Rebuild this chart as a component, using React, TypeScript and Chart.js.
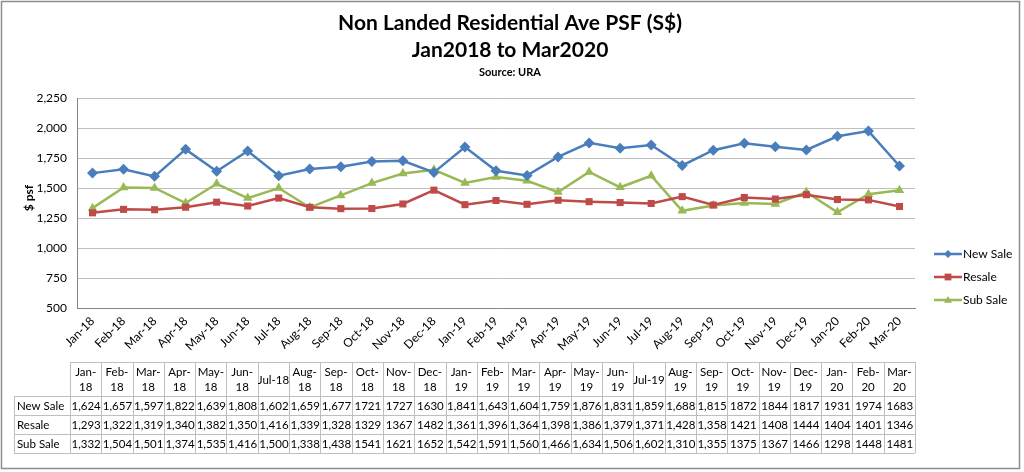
import React, { useEffect, useRef } from "react";
import { Chart, registerables } from "chart.js";
Chart.register(...registerables);

const months = [
  "Jan-18", "Feb-18", "Mar-18", "Apr-18", "May-18", "Jun-18", "Jul-18", "Aug-18", "Sep-18",
  "Oct-18", "Nov-18", "Dec-18", "Jan-19", "Feb-19", "Mar-19", "Apr-19", "May-19", "Jun-19",
  "Jul-19", "Aug-19", "Sep-19", "Oct-19", "Nov-19", "Dec-19", "Jan-20", "Feb-20", "Mar-20",
];
const newSale = [1624, 1657, 1597, 1822, 1639, 1808, 1602, 1659, 1677, 1721, 1727, 1630, 1841, 1643, 1604, 1759, 1876, 1831, 1859, 1688, 1815, 1872, 1844, 1817, 1931, 1974, 1683];
const resale = [1293, 1322, 1319, 1340, 1382, 1350, 1416, 1339, 1328, 1329, 1367, 1482, 1361, 1396, 1364, 1398, 1386, 1379, 1371, 1428, 1358, 1421, 1408, 1444, 1404, 1401, 1346];
const subSale = [1332, 1504, 1501, 1374, 1535, 1416, 1500, 1338, 1438, 1541, 1621, 1652, 1542, 1591, 1560, 1466, 1634, 1506, 1602, 1310, 1355, 1375, 1367, 1466, 1298, 1448, 1481];
// whether the data table shows a thousands separator for each month column
const tableComma = [
  true, true, true, true, true, true, true, true, true,
  false, false, false, true, true, true, true, true, true,
  true, true, true, false, false, false, false, false, false,
];
const seriesNames = ["New Sale", "Resale", "Sub Sale"];
const seriesColors = ["#4A7EBB", "#BE4B48", "#98B954"];
const seriesMarkers = ["rectRot", "rect", "triangle"];
const titleLines = ["Non Landed Residential Ave PSF (S$)", "Jan2018 to Mar2020"];
const subtitle = "Source: URA";
const yAxisTitle = "$ psf";
const yMin = 500;
const yMax = 2250;
const yStep = 250;

const FONT = "Lato, 'Open Sans', sans-serif";

function drawMarker(ctx: CanvasRenderingContext2D, kind: string, x: number, y: number, r: number, color: string) {
  ctx.save();
  ctx.fillStyle = color;
  ctx.beginPath();
  if (kind === "rectRot") {
    ctx.moveTo(x, y - r);
    ctx.lineTo(x + r, y);
    ctx.lineTo(x, y + r);
    ctx.lineTo(x - r, y);
  } else if (kind === "rect") {
    ctx.rect(x - r * 0.85, y - r * 0.85, r * 1.7, r * 1.7);
  } else {
    ctx.moveTo(x, y - r);
    ctx.lineTo(x + r, y + r * 0.7);
    ctx.lineTo(x - r, y + r * 0.7);
  }
  ctx.closePath();
  ctx.fill();
  ctx.restore();
}

const decorPlugin = {
  id: "decor",
  afterDraw(chart: any) {
    const ctx: CanvasRenderingContext2D = chart.ctx;
    const area = chart.chartArea;
    ctx.save();
    // outer border
    ctx.strokeStyle = "#8C8C8C";
    ctx.lineWidth = 1.5;
    ctx.strokeRect(1.5, 1.5, 1018, 467);

    // titles
    ctx.fillStyle = "#000";
    ctx.textAlign = "center";
    ctx.textBaseline = "middle";
    ctx.font = `bold 21px ${FONT}`;
    ctx.fillText(titleLines[0], 510, 23);
    ctx.fillText(titleLines[1], 510, 50);
    ctx.font = `bold 11px ${FONT}`;
    ctx.fillText(subtitle, 510, 72);

    // y axis title
    ctx.save();
    ctx.translate(29, 198);
    ctx.rotate(-Math.PI / 2);
    ctx.font = `bold 12px ${FONT}`;
    ctx.fillText(yAxisTitle, 0, 0);
    ctx.restore();

    // legend
    const legendY = [254, 277, 300];
    ctx.font = `12px ${FONT}`;
    ctx.textAlign = "left";
    for (let i = 0; i < seriesNames.length; i++) {
      const y = legendY[i];
      ctx.strokeStyle = seriesColors[i];
      ctx.lineWidth = 2.5;
      ctx.beginPath();
      ctx.moveTo(934, y);
      ctx.lineTo(962, y);
      ctx.stroke();
      drawMarker(ctx, seriesMarkers[i], 948, y, 4, seriesColors[i]);
      ctx.fillStyle = "#000";
      ctx.fillText(seriesNames[i], 963, y);
    }

    // data table
    const left0 = 14;
    const colsLeft = 70;
    const right = area.right;
    const n = months.length;
    const colW = (right - colsLeft) / n;
    const top = 362;
    const headBottom = 396;
    const rowH = 19;
    const rows = [newSale, resale, subSale];
    const bottom = headBottom + rowH * rows.length;
    ctx.strokeStyle = "#BFBFBF";
    ctx.lineWidth = 1;
    ctx.beginPath();
    ctx.moveTo(colsLeft, top + 0.5);
    ctx.lineTo(right, top + 0.5);
    for (let c = 0; c <= n; c++) {
      const x = Math.round(colsLeft + c * colW) + 0.5;
      ctx.moveTo(x, top);
      ctx.lineTo(x, bottom);
    }
    ctx.moveTo(left0 + 0.5, headBottom);
    ctx.lineTo(left0 + 0.5, bottom);
    for (let r = 0; r <= rows.length; r++) {
      const y = headBottom + r * rowH + 0.5;
      ctx.moveTo(left0, y);
      ctx.lineTo(right, y);
    }
    ctx.stroke();

    ctx.fillStyle = "#000";
    ctx.font = `11.5px ${FONT}`;
    ctx.textAlign = "center";
    for (let c = 0; c < n; c++) {
      const cx = colsLeft + (c + 0.5) * colW;
      const label = months[c];
      if (label.startsWith("Jul")) {
        ctx.fillText(label, cx, (top + headBottom) / 2 + 1);
      } else {
        const parts = label.split("-");
        ctx.fillText(parts[0] + "-", cx, top + 10);
        ctx.fillText(parts[1], cx, top + 25);
      }
      for (let r = 0; r < rows.length; r++) {
        const v = rows[r][c];
        const s = tableComma[c] ? v.toLocaleString("en-US") : String(v);
        ctx.fillText(s, cx + 0.5, headBottom + r * rowH + rowH / 2 + 1);
      }
    }
    ctx.textAlign = "left";
    for (let r = 0; r < rows.length; r++) {
      ctx.fillText(seriesNames[r], left0 + 3, headBottom + r * rowH + rowH / 2 + 1);
    }
    ctx.restore();
  },
};

export default function App() {
  const ref = useRef<HTMLCanvasElement | null>(null);
  useEffect(() => {
    if (!ref.current) return;
    const seriesData = [newSale, resale, subSale];
    const chart = new Chart(ref.current, {
      type: "line",
      data: {
        labels: months,
        datasets: seriesNames.map((name, i) => ({
          label: name,
          data: seriesData[i],
          borderColor: seriesColors[i],
          backgroundColor: seriesColors[i],
          borderWidth: 2.5,
          pointStyle: seriesMarkers[i] as any,
          pointRadius: seriesMarkers[i] === "rect" ? 5 : 5.5,
          pointBorderWidth: 0,
          tension: 0,
        })),
      },
      options: {
        animation: false,
        responsive: false,
        maintainAspectRatio: false,
        layout: { padding: { top: 98, right: 109, bottom: 110, left: 0 } },
        plugins: {
          legend: { display: false },
          title: { display: false },
          tooltip: { enabled: false },
        },
        scales: {
          x: {
            offset: true,
            grid: {
              display: true,
              offset: true,
              drawOnChartArea: false,
              drawTicks: false,
              color: "#868686",
            },
            border: { display: true, color: "#868686" },
            ticks: {
              autoSkip: false,
              maxRotation: 45,
              minRotation: 45,
              padding: 6,
              color: "#000",
              font: { family: FONT, size: 12 },
            },
            afterFit: (s: any) => {
              s.height = 54;
            },
          },
          y: {
            min: yMin,
            max: yMax,
            ticks: {
              stepSize: yStep,
              padding: 10,
              color: "#000",
              font: { family: FONT, size: 12 },
              callback: (v: any) => Number(v).toLocaleString("en-US"),
            },
            grid: { color: "#BFBFBF", drawTicks: false },
            border: { display: true, color: "#868686" },
            afterFit: (s: any) => {
              s.width = 77;
            },
          },
        },
      },
      plugins: [decorPlugin],
    });
    return () => chart.destroy();
  }, []);
  return (
    <div style={{ position: "absolute", left: 0, top: 0, width: 1024, height: 472, background: "#fff" }}>
      <canvas ref={ref} width={1024} height={472} style={{ width: 1024, height: 472, display: "block" }} />
    </div>
  );
}
